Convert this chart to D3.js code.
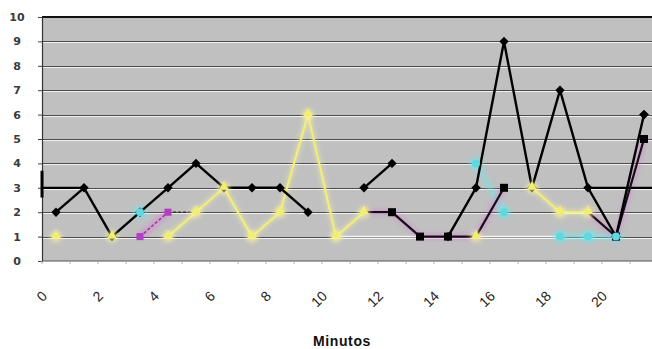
<!DOCTYPE html>
<html>
<head>
<meta charset="utf-8">
<script src="https://cdn.jsdelivr.net/npm/d3@7"></script>
<style>
  html, body { margin: 0; padding: 0; background: #ffffff; }
  svg { display: block; }
</style>
</head>
<body>
<svg id="chart" width="652" height="349"></svg>
<script>
// ---- data ----
const minutos = d3.range(0, 22);
const xTickLabels = ["0","2","4","6","8","10","12","14","16","18","20"];
const yTickLabels = ["0","1","2","3","4","5","6","7","8","9","10"];
const serieNegra     = [2,3,1,2,3,4,3,3,3,2,null,3,4,null,1,3,9,3,7,3,1,6];
const serieCuadrados = [null,null,null,null,null,null,null,null,null,null,null,2,2,1,1,1,3,null,null,2,1,5];
const serieAmarilla  = [1,null,1,null,1,2,3,1,2,6,1,2,null,null,null,1,null,3,2,2,null,null];
const serieCian      = [null,null,null,2,null,null,null,null,null,null,null,null,null,null,null,4,2,null,1,1,1,null];
const serieMagenta   = [null,null,null,1,2,null,null,null,null,null,null,null,null,null,null,null,null,null,null,null,null,null];
const serieAzul      = [null,null,null,null,2,2,null,null,null,null,null,null,null,null,null,null,null,null,null,null,null,null];
const serieBlanca    = [null,null,null,null,null,null,null,null,null,null,1,1,1,1,1,1,1,1,1,null,null,null];
const serieReferencia= [3,3,null,null,null,null,null,null,null,null,null,null,null,null,null,null,null,null,null,3,3,3];
const ejeTitulo = "Minutos";

// ---- layout ----
const svg = d3.select("#chart");
const plot = {left: 42, right: 658, top: 17, bottom: 261};

const x = d3.scaleBand().domain(minutos).range([plot.left, plot.right]).padding(0);
const cx = i => x(minutos[i]) + x.bandwidth() / 2;
const y = d3.scaleLinear().domain([0, 10]).range([plot.bottom, plot.top]);

const defs = svg.append("defs");
defs.append("filter").attr("id", "glow").attr("x", "-50%").attr("y", "-50%").attr("width", "200%").attr("height", "200%")
  .append("feGaussianBlur").attr("stdDeviation", 2.2);
defs.append("filter").attr("id", "soft").attr("x", "-30%").attr("y", "-30%").attr("width", "160%").attr("height", "160%")
  .append("feGaussianBlur").attr("stdDeviation", 0.6);
defs.append("clipPath").attr("id", "clip").append("rect")
  .attr("x", plot.left).attr("y", plot.top - 3).attr("width", plot.right - plot.left).attr("height", plot.bottom - plot.top + 6);

// plot background
svg.append("rect").attr("x", plot.left).attr("y", plot.top)
  .attr("width", plot.right - plot.left).attr("height", plot.bottom - plot.top)
  .attr("fill", "#c0c0c0");

// gridlines
const yTicks = d3.range(1, 10);
const grid = svg.append("g");
grid.selectAll("line.dark").data(yTicks).join("line")
  .attr("x1", plot.left).attr("x2", plot.right)
  .attr("y1", d => Math.round(y(d)) + 0.5).attr("y2", d => Math.round(y(d)) + 0.5)
  .attr("stroke", "#4a4a4a").attr("stroke-width", 1);
grid.selectAll("line.light").data(yTicks).join("line")
  .attr("x1", plot.left).attr("x2", plot.right)
  .attr("y1", d => Math.round(y(d)) + 1.5).attr("y2", d => Math.round(y(d)) + 1.5)
  .attr("stroke", "#f2f2f2").attr("stroke-width", 1);

// top border
svg.append("line").attr("x1", plot.left).attr("x2", plot.right)
  .attr("y1", plot.top).attr("y2", plot.top).attr("stroke", "#111").attr("stroke-width", 2);

// axes
const yAxis = d3.axisLeft(y).tickValues(d3.range(0, 11)).tickSize(4).tickFormat((d, i) => yTickLabels[i]);
const gy = svg.append("g").attr("transform", `translate(${plot.left},0)`).call(yAxis);
gy.select(".domain").attr("stroke", "#333").attr("stroke-width", 1.2);
gy.selectAll(".tick line").attr("stroke", "#444");
gy.selectAll(".tick text").attr("x", -25).attr("text-anchor", "middle")
  .attr("font-family", "DejaVu Sans, Arial, sans-serif").attr("font-weight", "bold")
  .attr("font-size", 11).attr("fill", "#3a3a3a");

const gx = svg.append("g").attr("transform", `translate(0,${plot.bottom})`);
gx.append("line").attr("x1", plot.left).attr("x2", plot.right).attr("y1", 0).attr("y2", 0)
  .attr("stroke", "#555").attr("stroke-width", 1.2);
gx.selectAll("line.tk").data(minutos).join("line")
  .attr("x1", d => x(d)).attr("x2", d => x(d)).attr("y1", 0).attr("y2", 3)
  .attr("stroke", "#aaa");
const labelCats = xTickLabels.map(s => +s);
gx.selectAll("text").data(labelCats).join("text")
  .attr("transform", d => `translate(${cx(minutos.indexOf(d)) - 8},${36}) rotate(-45)`)
  .attr("text-anchor", "end")
  .attr("font-family", "Liberation Sans, Arial, sans-serif")
  .attr("font-size", 14).attr("fill", "#222")
  .text((d, i) => xTickLabels[i]);

// axis title
svg.append("text").attr("x", 342).attr("y", 346).attr("text-anchor", "middle")
  .attr("font-family", "Liberation Sans, Arial, sans-serif").attr("font-weight", "bold")
  .attr("font-size", 14).attr("letter-spacing", 0.6).attr("fill", "#111").text(ejeTitulo);

// ---- series ----
const lineGen = d3.line().defined(d => d != null).x((d, i) => cx(i)).y(d => y(d));
const g = svg.append("g").attr("clip-path", "url(#clip)");

// white series
g.append("path").attr("d", lineGen(serieBlanca)).attr("fill", "none")
  .attr("stroke", "#f4f4f4").attr("stroke-width", 1.6);

// cyan glow series
g.append("path").attr("d", lineGen(serieCian)).attr("fill", "none")
  .attr("stroke", "#6fe8ee").attr("stroke-width", 6).attr("opacity", 0.5).attr("filter", "url(#glow)");
g.selectAll("circle.cianglow").data(serieCian.map((v, i) => ({v, i})).filter(d => d.v != null)).join("circle")
  .attr("cx", d => cx(d.i)).attr("cy", d => y(d.v)).attr("r", 7)
  .attr("fill", "#6fe8ee").attr("opacity", 0.55).attr("filter", "url(#glow)");

// magenta glow under squares series
g.append("path").attr("d", lineGen(serieCuadrados)).attr("fill", "none")
  .attr("stroke", "#e070e0").attr("stroke-width", 6).attr("opacity", 0.4).attr("filter", "url(#glow)");

// magenta series
g.append("path").attr("d", lineGen(serieMagenta)).attr("fill", "none")
  .attr("stroke", "#e070e0").attr("stroke-width", 7).attr("opacity", 0.45).attr("filter", "url(#glow)");
g.append("path").attr("d", lineGen(serieMagenta)).attr("fill", "none")
  .attr("stroke", "#8a3a8a").attr("stroke-width", 1.5).attr("stroke-dasharray", "3,2");

// blue dashed series
g.append("path").attr("d", lineGen(serieAzul)).attr("fill", "none")
  .attr("stroke", "#333").attr("stroke-width", 1.5).attr("stroke-dasharray", "3,2");

// yellow series
g.append("path").attr("d", lineGen(serieAmarilla)).attr("fill", "none")
  .attr("stroke", "#fbf7a0").attr("stroke-width", 5).attr("opacity", 0.45).attr("filter", "url(#glow)");
g.append("path").attr("d", lineGen(serieAmarilla)).attr("fill", "none")
  .attr("stroke", "#f3ee78").attr("stroke-width", 2).attr("filter", "url(#soft)");

// reference series (extends to plot edges)
function refSegments(vals) {
  const segs = [];
  let cur = [];
  vals.forEach((v, i) => {
    if (v != null) cur.push([i, v]); else if (cur.length) { segs.push(cur); cur = []; }
  });
  if (cur.length) segs.push(cur);
  return segs.map(s => {
    const p = s.map(([i, v]) => [cx(i), y(v)]);
    if (s[0][0] === 0) p.unshift([plot.left, y(s[0][1])]);
    if (s[s.length - 1][0] === vals.length - 1) p.push([plot.right, y(s[s.length - 1][1])]);
    return p;
  });
}
refSegments(serieReferencia).forEach(p => {
  g.append("path").attr("d", d3.line()(p)).attr("fill", "none")
    .attr("stroke", "#000").attr("stroke-width", 2.2);
});
// y-axis stub at reference value
svg.append("line").attr("x1", plot.left).attr("x2", plot.left)
  .attr("y1", y(serieReferencia[0] - 0.4)).attr("y2", y(serieReferencia[0] + 0.7))
  .attr("stroke", "#000").attr("stroke-width", 3);

// squares series line
g.append("path").attr("d", lineGen(serieCuadrados)).attr("fill", "none")
  .attr("stroke", "#111").attr("stroke-width", 2.2);

// black diamond series line
g.append("path").attr("d", lineGen(serieNegra)).attr("fill", "none")
  .attr("stroke", "#000").attr("stroke-width", 2.4);

// ---- markers ----
const pts = arr => arr.map((v, i) => ({v, i})).filter(d => d.v != null);
const sym = (type, size) => d3.symbol().type(type).size(size)();

// magenta squares
g.selectAll("path.mag").data(pts(serieMagenta)).join("path")
  .attr("transform", d => `translate(${cx(d.i)},${y(d.v)})`)
  .attr("d", sym(d3.symbolSquare, 50)).attr("fill", "#b040c0");

// black diamonds (square rotated 45°)
g.selectAll("path.dia").data(pts(serieNegra)).join("path")
  .attr("transform", d => `translate(${cx(d.i)},${y(d.v)}) rotate(45)`)
  .attr("d", sym(d3.symbolSquare, 44)).attr("fill", "#000");

// black squares (hidden where a yellow triangle sits)
g.selectAll("path.sq").data(pts(serieCuadrados).filter(d => serieAmarilla[d.i] == null)).join("path")
  .attr("transform", d => `translate(${cx(d.i)},${y(d.v)})`)
  .attr("d", sym(d3.symbolSquare, 64)).attr("fill", "#000");

// cyan circle markers with x
g.selectAll("circle.cm").data(pts(serieCian)).join("circle")
  .attr("cx", d => cx(d.i)).attr("cy", d => y(d.v)).attr("r", 4)
  .attr("fill", "#5fd8e0");
g.selectAll("path.cx").data(pts(serieCian)).join("path")
  .attr("transform", d => `translate(${cx(d.i)},${y(d.v)})`)
  .attr("d", sym(d3.symbolX, 30)).attr("fill", "#123");

// blue x markers
g.selectAll("path.bx").data(pts(serieAzul).slice(0, 1)).join("path")
  .attr("transform", d => `translate(${cx(d.i)},${y(d.v)})`)
  .attr("d", sym(d3.symbolX, 45)).attr("fill", "#3a5a8a");

// yellow triangles
g.selectAll("path.triglow").data(pts(serieAmarilla)).join("circle")
  .attr("cx", d => cx(d.i)).attr("cy", d => y(d.v))
  .attr("r", 6).attr("fill", "#fbf7a0").attr("opacity", 0.6).attr("filter", "url(#glow)");
g.selectAll("path.tri").data(pts(serieAmarilla)).join("path")
  .attr("transform", d => `translate(${cx(d.i)},${y(d.v) - 1})`)
  .attr("d", sym(d3.symbolTriangle, 42)).attr("fill", "#f3ef6e")
  .attr("filter", "url(#soft)");

// re-draw the final diamond on top of the squares series
g.selectAll("path.dia2").data(pts(serieNegra).filter(d => d.i === minutos.length - 1)).join("path")
  .attr("transform", d => `translate(${cx(d.i)},${y(d.v)}) rotate(45)`)
  .attr("d", sym(d3.symbolSquare, 44)).attr("fill", "#000");
</script>
</body>
</html>
